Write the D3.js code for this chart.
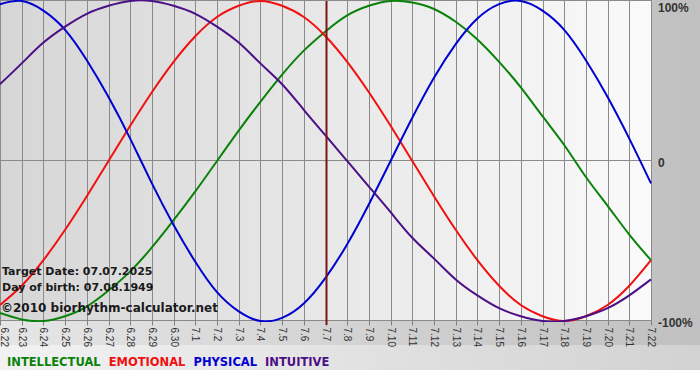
<!DOCTYPE html>
<html>
<head lang="en">
    <meta charset="UTF-8">
    <title>Biorhythm</title>
    <style>
        body { margin: 0; background: #fff; }
        svg { display: block; font-family: "DejaVu Sans", Verdana, sans-serif; }
        .x.axis text { font-size: 10px; fill: #333; }
        .x.axis line, .x.axis path { stroke: #808080; }
        .y.axis text { font-size: 12px; font-weight: bold; fill: #333; }
        .y.axis path { display: none; }
        .info { font-size: 11px; font-weight: bold; fill: #1a1a1a; }
        .legend text { font-size: 11.5px; font-weight: bold; }
    </style>
</head>
<body>
<svg id="chart" width="700" height="380"></svg>
<script src="https://cdn.jsdelivr.net/npm/d3@7"></script>
<script>
    // day labels (6.22 .. 7.22)
    let days = ["6.22","6.23","6.24","6.25","6.26","6.27","6.28","6.29","6.30",
        "7.1","7.2","7.3","7.4","7.5","7.6","7.7","7.8","7.9","7.10","7.11","7.12",
        "7.13","7.14","7.15","7.16","7.17","7.18","7.19","7.20","7.21","7.22"];
    let targetDay = "7.7";

    // values, -1 .. 1
    let intellectual = [-0.95,-0.99,-1.00,-0.97,-0.91,-0.81,-0.69,-0.54,-0.37,-0.19,0,
        0.19,0.37,0.54,0.69,0.81,0.91,0.97,1.00,0.99,0.95,0.87,0.76,0.62,0.46,0.28,0.10,
        -0.10,-0.28,-0.46,-0.62];
    let emotional = [-0.90,-0.78,-0.62,-0.43,-0.22,0,0.22,0.43,0.62,0.78,0.90,0.97,1.00,
        0.97,0.90,0.78,0.62,0.43,0.22,0,-0.22,-0.43,-0.62,-0.78,-0.90,-0.97,-1.00,-0.97,
        -0.90,-0.78,-0.62];
    let physical = [0.98,1.00,0.94,0.82,0.63,0.40,0.14,-0.14,-0.40,-0.63,-0.82,-0.94,-1.00,
        -0.98,-0.89,-0.73,-0.52,-0.27,0,0.27,0.52,0.73,0.89,0.98,1.00,0.94,0.82,0.63,0.40,
        0.14,-0.14];
    let intuitive = [0.48,0.61,0.74,0.84,0.92,0.97,1.00,1.00,0.97,0.92,0.84,0.74,0.61,0.48,
        0.32,0.16,0,-0.16,-0.32,-0.48,-0.61,-0.74,-0.84,-0.92,-0.97,-1.00,-1.00,-0.97,
        -0.92,-0.84,-0.74];

    let seriesNames = ["INTELLECTUAL","EMOTIONAL","PHYSICAL","INTUITIVE"];
    let seriesColors = ["#0a820a","#f01010","#0000d0","#4b0f86"];
    let yTicks = [1, 0, -1];
    let yTickLabels = ["100%", "0", "-100%"];
    let infoLines = ["Target Date: 07.07.2025", "Day of birth: 07.08.1949"];
    let copyright = "\u00a92010 biorhythm-calculator.net";

    let plotWidth = 651;
    let plotTop = 1, plotBottom = 321;

    let svg = d3.select("#chart");
    let defs = svg.append("defs");

    let bgGrad = defs.append("linearGradient").attr("id", "bgGrad");
    bgGrad.append("stop").attr("offset", "0%").attr("stop-color", "#e6e6e6");
    bgGrad.append("stop").attr("offset", "100%").attr("stop-color", "#c0c0c0");

    let legGrad = defs.append("linearGradient").attr("id", "legGrad");
    legGrad.append("stop").attr("offset", "0%").attr("stop-color", "#f2f2f2");
    legGrad.append("stop").attr("offset", "100%").attr("stop-color", "#d2d2d2");

    let plotGrad = defs.append("linearGradient").attr("id", "plotGrad");
    plotGrad.append("stop").attr("offset", "0%").attr("stop-color", "#d6d6d6");
    plotGrad.append("stop").attr("offset", "100%").attr("stop-color", "#fafafa");

    defs.append("clipPath").attr("id", "clip")
        .append("rect").attr("x", 0).attr("y", plotTop - 1)
        .attr("width", plotWidth + 1).attr("height", plotBottom - plotTop + 2);

    svg.append("rect").attr("width", 700).attr("height", 370).attr("fill", "url(#bgGrad)");
    svg.append("rect").attr("y", 345).attr("width", 700).attr("height", 25).attr("fill", "url(#legGrad)");

    let x = d3.scaleLinear().domain([0, days.length - 1]).range([0, plotWidth]);
    let y = d3.scaleLinear().domain([-1, 1]).range([plotBottom, plotTop]);

    svg.append("rect")
        .attr("x", x(0)).attr("y", y(1))
        .attr("width", x(days.length - 1) - x(0)).attr("height", y(-1) - y(1))
        .attr("fill", "url(#plotGrad)");

    // vertical grid
    svg.append("g").selectAll("line")
        .data(d3.range(days.length))
        .join("line")
        .attr("x1", d => Math.round(x(d)) + 0.5).attr("x2", d => Math.round(x(d)) + 0.5)
        .attr("y1", y(1)).attr("y2", y(-1))
        .attr("stroke", "#8a8a8a");

    // horizontal lines
    svg.append("g").selectAll("line")
        .data(yTicks)
        .join("line")
        .attr("x1", x(0)).attr("x2", x(days.length - 1) + 1)
        .attr("y1", d => Math.round(y(d)) - 0.5).attr("y2", d => Math.round(y(d)) - 0.5)
        .attr("stroke", "#8a8a8a");

    // x axis
    let gx = svg.append("g")
        .attr("class", "x axis")
        .attr("transform", "translate(0.5," + (plotBottom - 0.5) + ")")
        .call(d3.axisBottom(x)
            .tickValues(d3.range(days.length))
            .tickFormat(i => days[i])
            .tickSizeInner(5)
            .tickSizeOuter(0)
            .offset(0));
    gx.select(".domain").remove();
    gx.selectAll(".tick").attr("transform", d => "translate(" + Math.round(x(d)) + ",0)");
    gx.selectAll("text")
        .attr("transform", "rotate(90)")
        .attr("x", 7)
        .attr("y", d => d === 0 ? -4 : 0)   // keep first label inside the page
        .attr("dy", "0.35em")
        .attr("text-anchor", "start");

    // y axis on the right
    let gy = svg.append("g")
        .attr("class", "y axis")
        .attr("transform", "translate(" + (plotWidth + 1) + ",0)")
        .call(d3.axisRight(y)
            .tickValues(yTicks)
            .tickFormat((d, i) => yTickLabels[i])
            .tickSize(0)
            .tickPadding(6));
    gy.selectAll("text").attr("dy", d => d === 1 ? "0.85em" : "0.45em");

    // curves
    let curves = svg.append("g").attr("clip-path", "url(#clip)");
    let line = d3.line()
        .x((d, i) => x(i))
        .y(d => y(d))
        .curve(d3.curveNatural);

    [intellectual, emotional, physical, intuitive].forEach((s, k) => {
        curves.append("path")
            .datum(s)
            .attr("fill", "none")
            .attr("stroke", seriesColors[k])
            .attr("stroke-width", 2)
            .attr("d", line);
    });

    // target day marker
    let ti = days.indexOf(targetDay);
    svg.append("line")
        .attr("x1", Math.round(x(ti)) + 0.5).attr("x2", Math.round(x(ti)) + 0.5)
        .attr("y1", y(1)).attr("y2", y(-1) + 4)
        .attr("stroke", "#7a1414")
        .attr("stroke-width", 2);

    // info text
    svg.append("g").selectAll("text")
        .data(infoLines)
        .join("text")
        .attr("class", "info")
        .attr("x", 2)
        .attr("y", (d, i) => 275 + i * 16)
        .text(d => d);
    svg.append("text")
        .attr("class", "info")
        .attr("x", 1).attr("y", 312)
        .style("font-size", "12px")
        .text(copyright);

    // legend
    let legend = svg.append("g").attr("class", "legend");
    let lx = 7;
    seriesNames.forEach((name, k) => {
        let t = legend.append("text")
            .attr("x", lx).attr("y", 366)
            .attr("fill", seriesColors[k])
            .text(name);
        lx += t.node().getComputedTextLength() + 8;
    });
</script>
</body>
</html>
